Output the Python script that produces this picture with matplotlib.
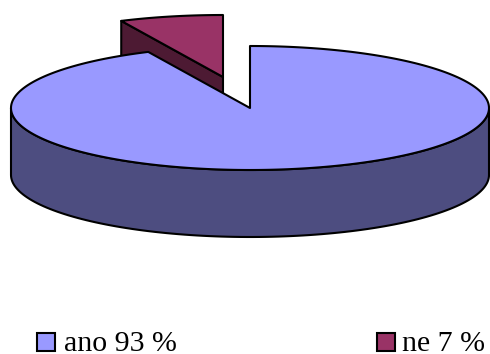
import numpy as np
import matplotlib
matplotlib.use("Agg")
import matplotlib.pyplot as plt

labels = ['ano 93 %', 'ne 7 %']
values = [93, 7]
top_colors = ['#9999FF', '#993366']
side_colors = ['#4D4D80', '#4D1A33']

cx, cy = 250, 108
rx, ry = 239, 62
depth = 67
ne_shift = (-27, -31)

def arc(start, stop, x0, y0, n=120):
    # angles run clockwise from twelve o'clock, in percent of the pie
    t = np.radians(np.linspace(start, stop, n) * 3.6)
    return x0 + rx * np.sin(t), y0 - ry * np.cos(t)

fig = plt.figure(figsize=(4.9, 3.54), dpi=100)
ax = fig.add_axes([0, 0, 1, 1])
ax.set_xlim(0, 490)
ax.set_ylim(354, 0)
ax.axis('off')

lw = 1.5
ano, ne = values
nx, ny = cx + ne_shift[0], cy + ne_shift[1]

# exploded slice: side wall first, the big slice covers most of it
ax_x, ax_y = arc(ano, 100, nx, ny)
ax.fill([ax_x[0], nx, nx, ax_x[0]], [ax_y[0], ny, ny + depth, ax_y[0] + depth],
        facecolor=side_colors[1], edgecolor='black', lw=lw, joinstyle='round')
ax.fill(np.r_[nx, ax_x], np.r_[ny, ax_y], facecolor=top_colors[1],
        edgecolor='black', lw=lw, joinstyle='round')

# front wall of the big slice
sx, sy = arc(25, 75, cx, cy)
ax.fill(np.r_[sx, sx[::-1]], np.r_[sy, sy[::-1] + depth], facecolor=side_colors[0],
        edgecolor='black', lw=lw, joinstyle='round')

# big slice top
tx, ty = arc(0, ano, cx, cy, 400)
ax.fill(np.r_[cx, tx], np.r_[cy, ty], facecolor=top_colors[0],
        edgecolor='black', lw=lw, joinstyle='round')

# legend
box_x = [36.5, 376.5]
text_x = [64, 402]
for i in range(2):
    ax.add_patch(plt.Rectangle((box_x[i], 332.5), 18, 18, facecolor=top_colors[i],
                               edgecolor='black', lw=1.5))
    ax.text(text_x[i], 351, labels[i], family='Liberation Serif', fontsize=21.5,
            ha='left', va='baseline', color='black')

fig.savefig('out.png', dpi=100)
